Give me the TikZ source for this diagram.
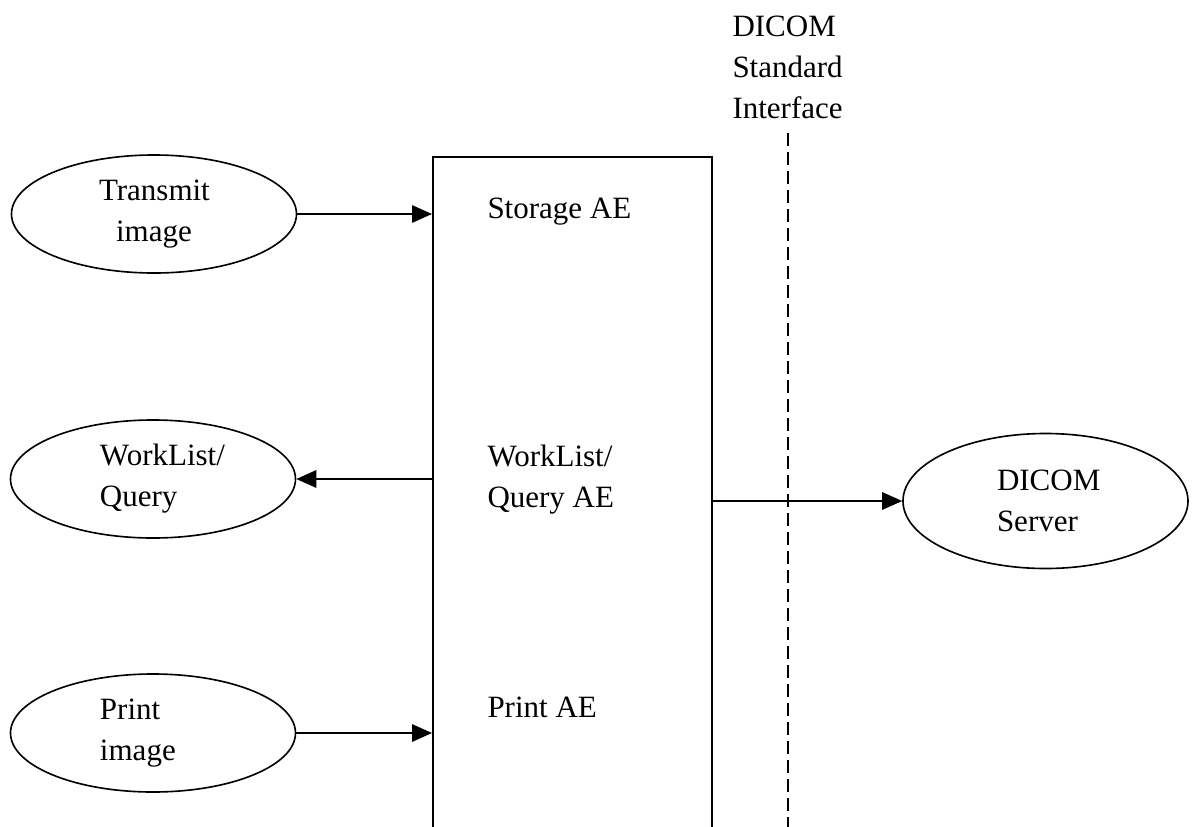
\documentclass[tikz,border=0pt]{standalone}
\usepackage{fontspec}
\setmainfont{Liberation Serif}
\usetikzlibrary{shapes.geometric,arrows.meta}

\begin{document}
\begin{tikzpicture}[x=0.4pt,y=-0.4pt,
    every node/.style={font=\fontsize{12.4pt}{16.4pt}\selectfont},
    usecase/.style={draw, ellipse, line width=0.65pt, minimum width=114pt, minimum height=47.2pt, inner sep=0pt},
    aelabel/.style={inner sep=0pt, align=left},
    link/.style={line width=0.65pt, -{Triangle[length=8pt,width=7pt]}}]

        \useasboundingbox (0,0) rectangle (1194,827);

        % AE box (open at the bottom)
        \node[draw, line width=0.8pt, minimum width=111.6pt, minimum height=277.2pt, inner sep=0pt] (box) at (572.5,503.5) {};

        % Use cases
        \node[usecase, text width=44pt, align=center] (trans) at (154,214) {Transmit\\image};
        \node[usecase, text width=42.4pt, align=left] (wl) at (153,479) {WorkList/\\Query};
        \node[usecase, text width=42.4pt, align=left] (prt) at (153,733) {Print\\image};
        \node[usecase, minimum height=54pt, text width=38.8pt, align=left] (srv) at (1045.5,501) {DICOM\\Server};

        % AE labels
        \node[aelabel, anchor=base west] (stor) at (487,218) {Storage AE};
        \node[aelabel, anchor=west] (wlq) at (487,480) {WorkList/\\Query AE};
        \node[aelabel, anchor=base west] (prae) at (487,717) {Print AE};

        % Interface
        \node[aelabel, anchor=north west] (iface) at (732,15) {DICOM\\Standard\\Interface};
        \coordinate (ifTop) at (788,133);
        \coordinate (ifBot) at (788,827);
        \draw[line width=0.6pt, dash pattern=on 5pt off 2.6pt] (ifTop) -- (ifBot);

        % Arrows
        \draw[link] (trans.east) -- (trans.east -| box.west);
        \draw[link] (wl.east -| box.west) -- (wl.east);
        \draw[link] (prt.east) -- (prt.east -| box.west);
        \draw[link] (srv.west -| box.east) -- (srv.west);

    \end{tikzpicture}
\end{document}
